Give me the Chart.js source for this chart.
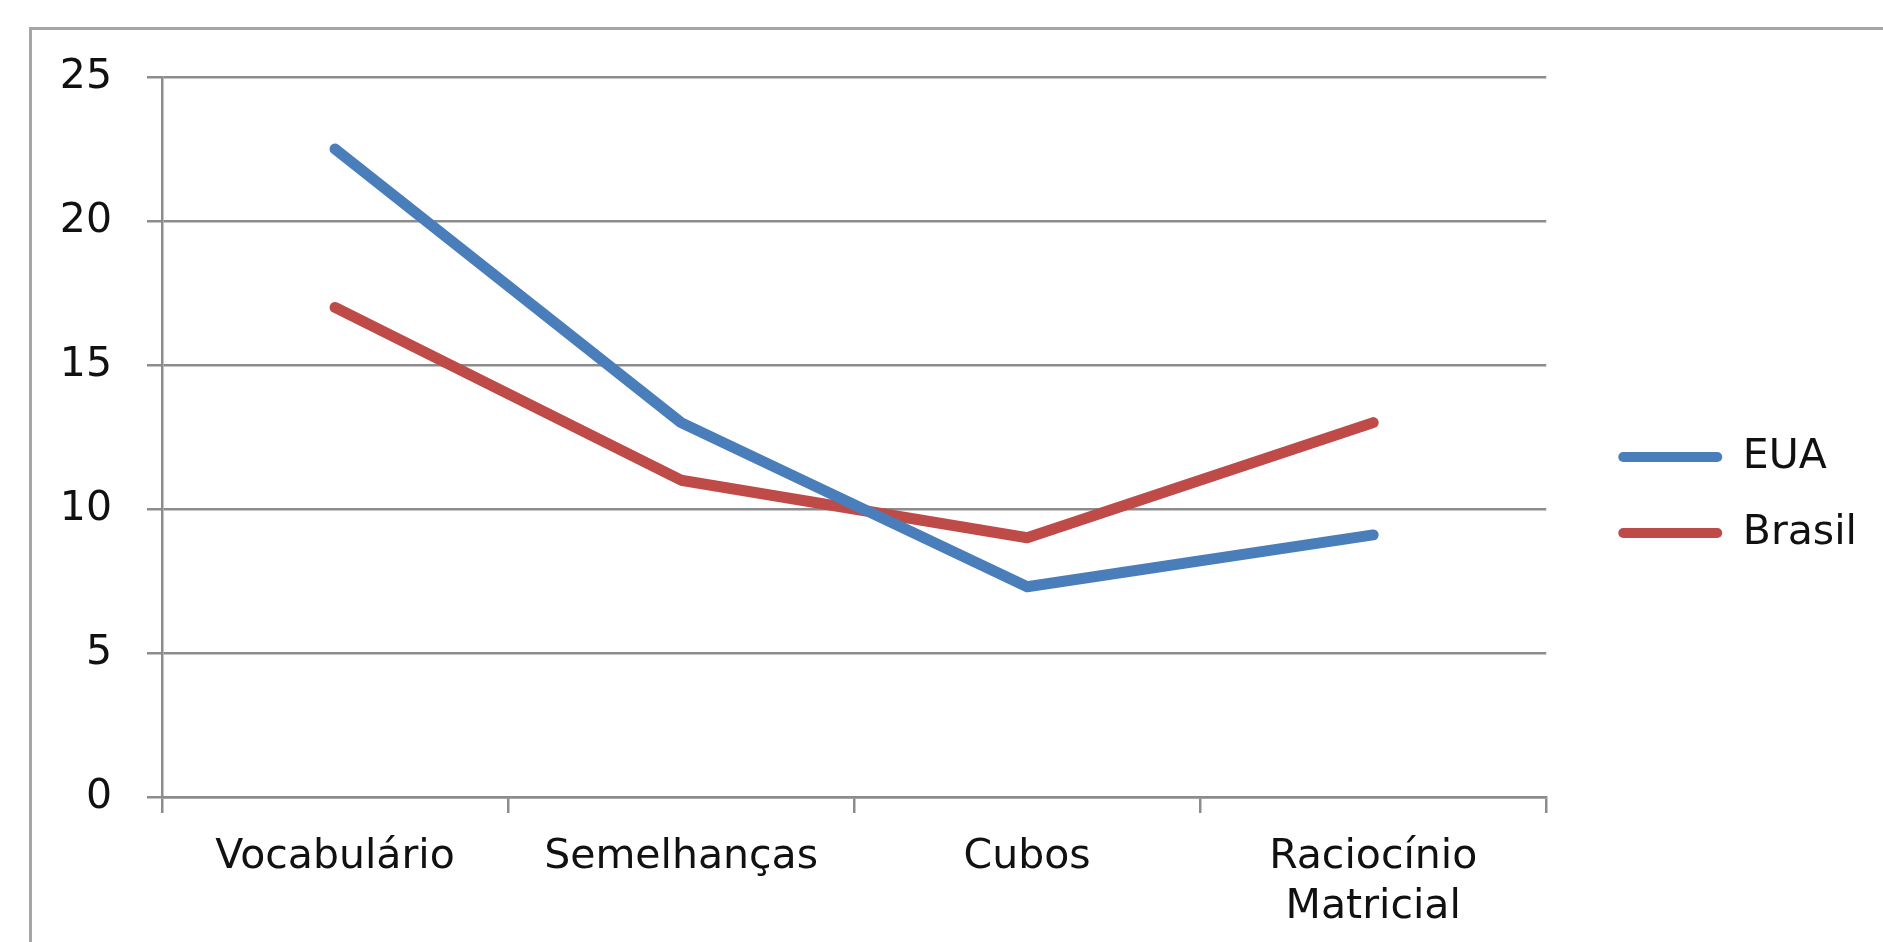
<!DOCTYPE html>
<html>
<head>
<meta charset="utf-8">
<script src="https://cdn.jsdelivr.net/npm/chart.js@4/dist/chart.umd.min.js"></script>
<style>
  html, body { margin: 0; padding: 0; background: #fff; overflow: hidden; }
  #frame {
    position: absolute; left: 29px; top: 27px;
    width: 1900px; height: 1000px;
    border: 3px solid #a6a6a6;
  }
  #wrap { position: absolute; left: 0; top: 0; width: 1883px; height: 942px; }
</style>
</head>
<body>
<div id="frame"></div>
<div id="wrap"><canvas id="chart"></canvas></div>
<script>
// Subtestes (WISC) - EUA x Brasil
const categories = ['Vocabulário', 'Semelhanças', 'Cubos', ['Raciocínio', 'Matricial']];
const euaValues = [22.5, 13, 7.3, 9.1];
const brasilValues = [17, 11, 9, 13];
const yTicks = [0, 5, 10, 15, 20, 25];

const FONT = 'DejaVu Sans, Verdana, sans-serif';
const gridColor = '#8c8c8c';
const textColor = '#111';

// invisible spacer axis (used to push the plot away from the legend / top)
const spacer = (position, size) => ({
  position,
  display: true,
  afterFit: s => { if (s.isHorizontal()) s.height = size; else s.width = size; },
  grid: { display: false },
  border: { display: false },
  ticks: { display: false }
});

new Chart(document.getElementById('chart'), {
  type: 'line',
  data: {
    labels: categories,
    datasets: [
      { label: 'EUA', data: euaValues, borderColor: '#4a7ebb', backgroundColor: '#4a7ebb',
        borderWidth: 11, pointRadius: 0, tension: 0, borderCapStyle: 'round', borderJoinStyle: 'round' },
      { label: 'Brasil', data: brasilValues, borderColor: '#be4b48', backgroundColor: '#be4b48',
        borderWidth: 11, pointRadius: 0, tension: 0, borderCapStyle: 'round', borderJoinStyle: 'round' }
    ]
  },
  options: {
    responsive: true,
    maintainAspectRatio: false,
    animation: false,
    devicePixelRatio: 1,
    layout: { padding: { top: 48, bottom: 0, left: 0, right: 16 } },
    plugins: {
      tooltip: { enabled: false },
      legend: {
        position: 'right',
        labels: {
          color: textColor,
          font: { size: 41, family: FONT },
          boxWidth: 104,
          boxHeight: 10,
          padding: 35,
          useBorderRadius: true,
          borderRadius: 5,
          generateLabels: chart => chart.data.datasets.map((ds, i) => ({
            text: ds.label,
            fillStyle: ds.borderColor,
            strokeStyle: ds.borderColor,
            lineWidth: 0,
            fontColor: textColor,
            borderRadius: 5,
            datasetIndex: i
          }))
        }
      }
    },
    scales: {
      x: {
        offset: true,
        afterFit: s => { s.height = 145; },
        grid: { offset: true, drawOnChartArea: false, drawTicks: true, tickLength: 16, color: gridColor, lineWidth: 2.5 },
        border: { display: true, color: gridColor, width: 2.5 },
        ticks: { color: textColor, padding: 19, maxRotation: 0, autoSkip: false,
                 font: { size: 41, family: FONT, lineHeight: 1.22 } }
      },
      y: {
        min: 0,
        max: 25,
        afterFit: s => { s.width = 162; },
        afterBuildTicks: s => { s.ticks = yTicks.map(v => ({ value: v })); },
        grid: { color: gridColor, lineWidth: 2.5, tickLength: 15 },
        border: { display: true, color: gridColor, width: 2.5 },
        ticks: { color: textColor, padding: 35, font: { size: 41, family: FONT } }
      },
      gapTop: spacer('top', 29),
      gapRight: spacer('right', 37)
    }
  }
});
</script>
</body>
</html>
